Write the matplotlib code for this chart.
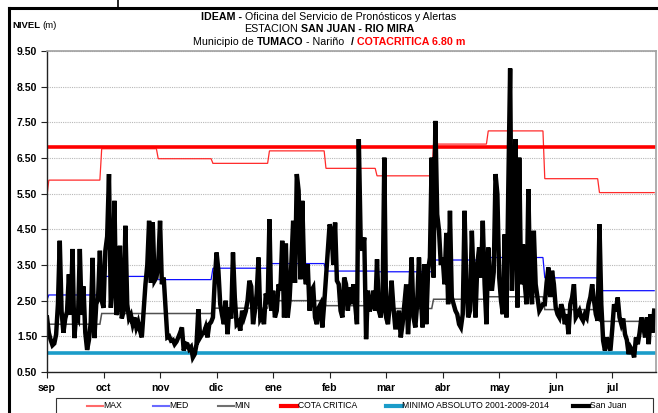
import numpy as np
import matplotlib
matplotlib.use("Agg")
import matplotlib.pyplot as plt
from matplotlib.lines import Line2D
from matplotlib.patches import Rectangle

# --- data -----------------------------------------------------------------
months = ['sep', 'oct', 'nov', 'dic', 'ene', 'feb', 'mar', 'abr', 'may', 'jun', 'jul']
days_in_month = [30, 31, 30, 31, 31, 28, 31, 30, 31, 30, 31]

# monthly reference levels (m)
nivel_max = [5.88, 6.76, 6.48, 6.35, 6.70, 6.21, 6.00, 6.89, 7.26, 5.92, 5.53]
nivel_med = [2.66, 3.18, 3.09, 3.41, 3.54, 3.33, 3.31, 3.64, 3.71, 3.14, 2.78]
nivel_min = [1.84, 2.14, 2.14, 2.29, 2.50, 2.36, 2.28, 2.54, 2.61, 2.25, 1.92]
max_first_day = 5.44
med_first_day = 2.52

cota_critica = 6.80
minimo_absoluto = 1.02

# daily level, San Juan (m)
san_juan = {
    'sep': [2.03, 1.6, 1.4, 1.25, 1.3, 1.55, 2.4, 4.18, 2.2, 1.6, 2.0, 2.2, 3.24, 2.1, 3.95,
            1.45, 2.1, 2.0, 3.95, 2.1, 2.9, 1.6, 1.12, 1.4, 1.9, 3.7, 1.45, 2.4, 2.55, 3.9],
    'oct': [2.5, 2.3, 3.9, 4.3, 6.05, 2.3, 3.0, 5.3, 2.1, 2.3, 4.04, 2.0, 2.2, 4.6, 2.4, 2.0,
            2.1, 1.84, 2.03, 1.75, 1.9, 1.66, 1.47, 2.2, 2.96, 3.5, 4.74, 3.0, 4.7, 3.06, 3.15],
    'nov': [3.5, 4.74, 2.96, 3.15, 2.31, 1.47, 1.5, 1.38, 1.4, 1.28, 1.35, 1.47, 1.6, 1.75, 1.10,
            1.3, 1.28, 1.14, 1.2, 0.91, 1.0, 1.28, 2.26, 1.47, 1.56, 1.6, 1.75, 1.47, 1.84, 1.9],
    'dic': [2.03, 3.06, 3.85, 3.34, 2.4, 2.1, 1.84, 2.5, 1.56, 2.31, 2.0, 3.85, 2.59, 1.84, 1.9,
            1.66, 2.22, 2.03, 2.2, 2.5, 3.06, 2.9, 1.84, 2.2, 2.7, 3.71, 2.0, 2.1, 1.84, 2.7, 2.4],
    'ene': [4.78, 2.22, 2.78, 2.03, 2.22, 2.96, 2.78, 4.18, 2.03, 4.1, 2.03, 2.5, 3.52, 4.74, 3.0,
            6.05, 5.58, 3.1, 5.3, 3.34, 2.96, 3.52, 2.22, 2.78, 2.87, 2.03, 1.84, 2.3, 2.4, 1.75, 2.4],
    'feb': [3.15, 3.9, 4.64, 4.46, 3.5, 4.69, 3.06, 2.96, 2.22, 2.03, 3.15, 2.96, 2.22, 2.87,
            2.4, 2.96, 2.4, 1.84, 7.03, 4.27, 3.9, 4.27, 1.42, 2.78, 2.2, 2.4, 2.78, 2.22],
    'mar': [3.66, 2.22, 2.03, 2.31, 6.51, 2.03, 1.84, 2.4, 3.06, 2.31, 1.75, 1.75, 2.22, 1.47, 1.84,
            2.4, 2.96, 1.56, 2.5, 3.71, 2.03, 1.75, 2.4, 3.71, 2.59, 1.75, 3.52, 1.84, 3.34, 3.71, 6.51],
    'abr': [3.15, 7.54, 4.92, 4.46, 3.5, 3.71, 2.96, 4.4, 2.4, 5.02, 2.59, 2.4, 2.22, 2.12, 1.84,
            1.75, 2.12, 5.02, 2.96, 2.03, 2.22, 4.46, 3.06, 2.03, 3.52, 3.99, 3.15, 4.74, 2.96, 1.84],
    'may': [3.99, 3.15, 2.78, 3.3, 6.05, 5.49, 3.15, 2.5, 2.12, 4.36, 2.03, 5.67, 9.01, 2.78, 4.55,
            7.03, 2.31, 6.51, 2.96, 4.08, 3.0, 2.4, 5.63, 2.96, 2.4, 4.46, 2.96, 2.6, 2.22, 2.31, 2.4],
    'jun': [2.4, 3.0, 3.43, 2.6, 3.34, 2.96, 2.31, 2.12, 2.03, 2.4, 2.22, 1.84, 2.12, 1.56, 2.4,
            2.59, 2.96, 2.03, 2.12, 2.22, 2.03, 1.94, 2.12, 2.03, 2.4, 2.6, 2.96, 2.5, 2.12, 1.94],
    'jul': [4.64, 2.4, 1.38, 1.1, 1.47, 1.28, 1.1, 1.7, 2.4, 2.2, 2.59, 2.03, 1.84, 2.0, 1.56,
            1.4, 1.0, 1.19, 1.1, 0.91, 1.47, 1.28, 1.6, 2.03, 1.8, 1.47, 2.03, 1.28, 2.12, 1.6, 2.22],
}

# --- series ---------------------------------------------------------------
level = np.concatenate([san_juan[m] for m in months])
days = np.arange(len(level))

s_max = np.repeat(nivel_max, days_in_month)
s_max[0] = max_first_day
s_med = np.repeat(nivel_med, days_in_month)
s_med[0] = med_first_day
s_min = np.repeat(nivel_min, days_in_month)
s_cota = np.full(len(days), cota_critica)
s_abs = np.full(len(days), minimo_absoluto)

W, H = 658, 413
fig = plt.figure(figsize=(W / 100, H / 100), dpi=100)
plt.rcParams['font.family'] = ['Liberation Sans', 'DejaVu Sans']
fam = ['Liberation Sans', 'DejaVu Sans']

ax = fig.add_axes([47 / W, (H - 372) / H, (656 - 47) / W, (372 - 51) / H])

series = [
    ('MAX', s_max, '#ff2a2a', 0.9),
    ('MED', s_med, '#1010ff', 0.9),
    ('MIN', s_min, '#505050', 1.1),
    ('COTA CRITICA', s_cota, '#ff0000', 2.6),
    ('MINIMO ABSOLUTO 2001-2009-2014', s_abs, '#1b9cc9', 2.6),
    ('San Juan', level, '#000000', 3.2),
]
for name, y, col, lw in series:
    ax.plot(days, y, color=col, lw=lw, solid_joinstyle='miter')

ax.set_ylim(0.5, 9.5)
ax.set_yticks(np.arange(0.5, 9.51, 1.0))
ax.set_yticklabels([f'{v:.2f}' for v in np.arange(0.5, 9.51, 1.0)])
ax.set_xlim(0, 334)
ax.set_xticks(np.arange(len(months)) * 31)
ax.set_xticklabels(months)
ax.yaxis.grid(True, linestyle=(0, (1, 1)), color='#b8b8b8', lw=0.8)
ax.set_axisbelow(True)
for lab in ax.get_xticklabels() + ax.get_yticklabels():
    lab.set_fontweight('bold')
    lab.set_fontsize(7.5)
ax.tick_params(axis='both', length=4, width=0.8, color='#222222', pad=3)
ax.tick_params(axis='x', pad=4)
for side in ('top', 'right'):
    ax.spines[side].set_color('#a0a0a0')
    ax.spines[side].set_linewidth(1.2)
for side in ('left', 'bottom'):
    ax.spines[side].set_color('#222222')
    ax.spines[side].set_linewidth(1.0)

# --- outer frame ------------------------------------------------------------
fig.add_artist(Line2D([9 / W, 9 / W], [0, 1 - 8 / H], color='black', lw=2.2,
                      transform=fig.transFigure))
fig.add_artist(Line2D([9 / W, 1], [1 - 8 / H, 1 - 8 / H], color='black', lw=2.2,
                      transform=fig.transFigure))
fig.add_artist(Line2D([118 / W, 118 / W], [1 - 8 / H, 1], color='black', lw=1.2,
                      transform=fig.transFigure))

# --- header text --------------------------------------------------------------
renderer = fig.canvas.get_renderer()


def rich_line(y_px, parts, size, x_center=None, x_left=None):
    texts = []
    for s, weight, col in parts:
        t = fig.text(0, 1 - y_px / H, s, fontsize=size, fontweight=weight, color=col,
                     va='center', ha='left', family=fam)
        texts.append(t)
    probe_a = fig.text(0, 0, 'x x', fontsize=size, family=fam)
    probe_b = fig.text(0, 0, 'xx', fontsize=size, family=fam)
    space = probe_a.get_window_extent(renderer).width - probe_b.get_window_extent(renderer).width
    probe_a.remove()
    probe_b.remove()
    widths = [t.get_window_extent(renderer).width for t in texts]
    total = sum(widths) + space * (len(texts) - 1)
    x = x_left if x_left is not None else x_center - total / 2
    for t, w in zip(texts, widths):
        t.set_x(x / W)
        x += w + space


rich_line(17, [('IDEAM -', 'bold', 'black'),
               ('Oficina del Servicio de Pronósticos y Alertas', 'normal', 'black')], 7.7, x_center=329)
rich_line(29.5, [('ESTACION', 'normal', 'black'),
                 ('SAN JUAN - RIO MIRA', 'bold', 'black')], 7.7, x_center=329)
rich_line(42, [('Municipio de', 'normal', 'black'), ('TUMACO', 'bold', 'black'),
               ('- Nariño', 'normal', 'black'), (' /', 'bold', 'black'),
               ('COTACRITICA 6.80 m', 'bold', '#ff0000')], 7.7, x_center=329)
rich_line(26, [('NIVEL', 'bold', 'black'), ('(m)', 'normal', 'black')], 6.8, x_left=12)

# --- legend ---------------------------------------------------------------------
fig.add_artist(Rectangle((56 / W, -0.05), (653 - 56) / W, 0.05 + (H - 398) / H,
                         transform=fig.transFigure, fill=False, edgecolor='#333333', lw=0.8))
leg_x = [87, 153, 218, 281, 386, 573]
leg_cols = ['#ff6a6a', '#6a6aff', '#707070', '#ff0000', '#1b9cc9', '#000000']
leg_lw = [1.5, 1.5, 1.5, 3.0, 3.0, 3.0]
y_leg = 1 - 405.5 / H
for (name, _, _, _), x0, c, lw in zip(series, leg_x, leg_cols, leg_lw):
    fig.add_artist(Line2D([x0 / W, (x0 + 16) / W], [y_leg, y_leg], color=c, lw=lw,
                          transform=fig.transFigure))
    fig.text((x0 + 16.5) / W, y_leg, name, fontsize=6.2, va='center', ha='left', family=fam)

fig.savefig('out.png', dpi=100)
